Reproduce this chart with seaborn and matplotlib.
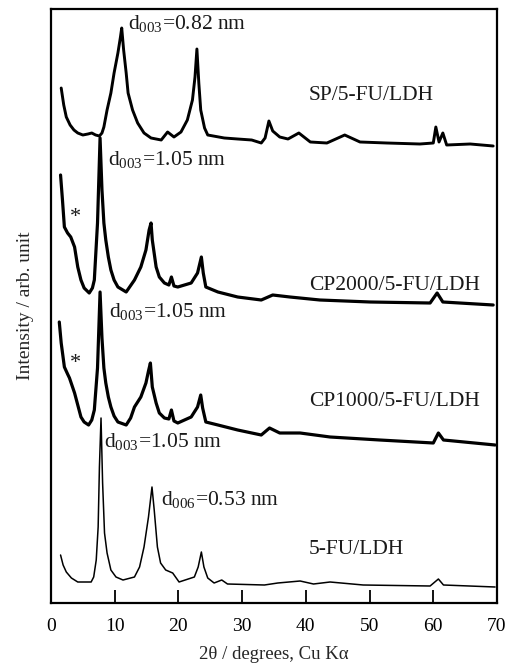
import matplotlib
matplotlib.use("Agg")
import matplotlib.pyplot as plt
import pandas as pd
import seaborn as sns

# XRD patterns (stacked, arbitrary intensity units)
sp_x = [1.6, 2.0, 2.4, 3.0, 3.6, 4.2, 5.0, 5.8, 6.4, 7.0, 7.6, 8.0, 8.3, 8.8, 9.4,
        9.9, 10.5, 10.9, 11.1, 11.4, 11.8, 12.1, 12.8, 13.6, 14.6, 15.7, 16.5, 17.3,
        18.3, 19.3, 20.4, 21.4, 22.2, 22.6, 22.9, 23.2, 23.5, 24.1, 24.6, 27.2, 29.3,
        31.5, 33.0, 33.6, 34.2, 34.8, 35.9, 37.2, 38.9, 40.7, 43.3, 46.1, 48.5, 52.7,
        57.9, 60.0, 60.4, 60.9, 61.5, 62.1, 65.8, 69.4]
sp_y = [515, 498, 486, 478, 473, 470, 468, 469, 470, 468, 467, 470, 476, 493, 510,
        530, 550, 566, 575, 553, 530, 510, 493, 480, 470, 465, 464, 463,
        471, 466, 471, 483, 503, 526, 554, 520, 493, 475, 468, 465, 464,
        463, 460, 465, 482, 472, 466, 464, 470, 461, 460, 468, 461, 460,
        459, 460, 476, 461, 470, 458, 459, 457]

cp2000_x = [1.5, 1.8, 2.1, 2.6, 3.1, 3.7, 4.2, 4.7, 5.2, 6.0, 6.5, 6.8, 7.3, 7.7, 8.0,
            8.3, 8.6, 9.0, 9.4, 9.9, 10.5, 11.8, 13.1, 14.1, 14.9, 15.4, 15.7, 15.9,
            16.5, 17.0, 17.8, 18.5, 18.9, 19.3, 19.9, 22.0, 23.0, 23.6, 23.9, 24.3,
            26.2, 29.3, 33.0, 34.8, 37.5, 42.2, 50.1, 59.5, 60.6, 61.5, 69.4]
cp2000_y = [428, 403, 376, 370, 366, 356, 336, 323, 315, 310, 315, 323, 380, 465, 413,
            380, 363, 346, 333, 323, 316, 311, 323, 336, 353, 373, 380, 363,
            336, 326, 320, 318, 326, 317, 316, 320, 330, 346, 330, 316,
            311, 306, 303, 308, 306, 303, 301, 300, 310, 301, 298]

cp1000_x = [1.3, 1.6, 2.1, 2.6, 2.9, 3.7, 4.2, 4.7, 5.2, 5.9, 6.4, 6.8, 7.3, 7.7, 8.0,
            8.3, 8.6, 9.0, 9.4, 9.9, 10.5, 11.8, 12.5, 13.1, 14.1, 14.9, 15.3, 15.6,
            15.9, 16.5, 17.0, 17.8, 18.5, 18.9, 19.3, 19.9, 22.0, 23.0, 23.5, 23.8,
            24.3, 26.2, 29.3, 33.0, 34.3, 35.9, 39.1, 43.8, 51.6, 60.0, 60.8, 61.6, 69.7]
cp1000_y = [281, 260, 236, 229, 225, 210, 198, 186, 181, 178, 183, 193, 235, 311, 265,
            235, 220, 206, 196, 187, 181, 178, 185, 196, 206, 220, 232, 240,
            216, 200, 190, 185, 184, 193, 182, 180, 186, 196, 208, 195,
            181, 178, 173, 168, 175, 170, 170, 166, 163, 160, 170, 163, 158]

fu_x = [1.5, 1.9, 2.4, 3.2, 4.2, 6.3, 6.7, 7.1, 7.4, 7.6, 7.85, 8.1, 8.4, 8.8, 9.4,
        10.2, 11.3, 13.1, 13.9, 14.6, 15.3, 15.85, 16.2, 16.7, 17.2, 18.0, 19.1, 20.1,
        22.5, 23.1, 23.6, 24.0, 24.6, 25.6, 26.8, 27.7, 33.5, 35.6, 39.1, 41.2, 43.8,
        49.0, 59.5, 60.8, 61.6, 69.7]
fu_y = [48, 38, 31, 25, 21, 21, 26, 43, 76, 136, 185, 120, 70, 50, 33,
        26, 23, 26, 36, 56, 86, 116, 93, 56, 40, 33, 30, 21,
        26, 36, 51, 36, 25, 20, 23, 19, 18, 20, 22, 19, 21,
        18, 17, 24, 18, 16]

sample_names = ["SP/5-FU/LDH", "CP2000/5-FU/LDH", "CP1000/5-FU/LDH", "5-FU/LDH"]
sample_label_y = [508, 318, 201, 53]

peak_labels = ["d$_{003}$=0.82 nm", "d$_{003}$=1.05 nm", "d$_{003}$=1.05 nm",
               "d$_{003}$=1.05 nm", "d$_{006}$=0.53 nm"]
peak_label_x = [12.1, 8.95, 9.1, 8.3, 17.3]
peak_label_y = [579, 443, 291, 161, 103]

star_x = [2.9, 2.9]
star_y = [385, 240]

x_ticks = [0, 10, 20, 30, 40, 50, 60, 70]

sns.set_theme(style="white")
plt.rcParams["font.family"] = ["Liberation Serif", "DejaVu Serif"]
plt.rcParams["mathtext.fontset"] = "custom"
plt.rcParams["mathtext.rm"] = "Liberation Serif"
plt.rcParams["mathtext.it"] = "Liberation Serif:italic"

fig = plt.figure(figsize=(5.12, 6.66), dpi=100)
ax = fig.add_axes([51 / 512, 63 / 666, 446 / 512, 594 / 666])

traces = [
    (sp_x, sp_y, 2.1),
    (cp2000_x, cp2000_y, 2.3),
    (cp1000_x, cp1000_y, 2.3),
    (fu_x, fu_y, 1.1),
]
for xs, ys, lw in traces:
    df = pd.DataFrame({"two_theta": xs, "intensity": ys})
    sns.lineplot(data=df, x="two_theta", y="intensity", ax=ax, color="black",
                 linewidth=lw, sort=False, estimator=None)

txt_color = "#1a1a1a"
for name, yy in zip(sample_names, sample_label_y):
    ax.text(40.5, yy, name, ha="left", va="center", fontsize=15.5, color=txt_color)
for lab, xx, yy in zip(peak_labels, peak_label_x, peak_label_y):
    ax.text(xx, yy, lab, ha="left", va="center", fontsize=15.5, color=txt_color)
for xx, yy in zip(star_x, star_y):
    ax.text(xx, yy, "*", ha="left", va="center", fontsize=16, color=txt_color)

ax.set_xlim(0, 70)
ax.set_ylim(0, 594)
ax.set_xticks(x_ticks)
ax.set_yticks([])
ax.tick_params(axis="x", direction="in", length=9.5, width=1.3, labelsize=14,
               colors="black", pad=11, bottom=True, top=False)
ax.set_xlabel("2θ / degrees, Cu Kα", fontsize=13.5, labelpad=8)
ax.set_ylabel("Intensity / arb. unit", fontsize=14, labelpad=12)
for sp in ax.spines.values():
    sp.set_linewidth(1.6)
    sp.set_color("black")

fig.savefig("out.png", dpi=100)
